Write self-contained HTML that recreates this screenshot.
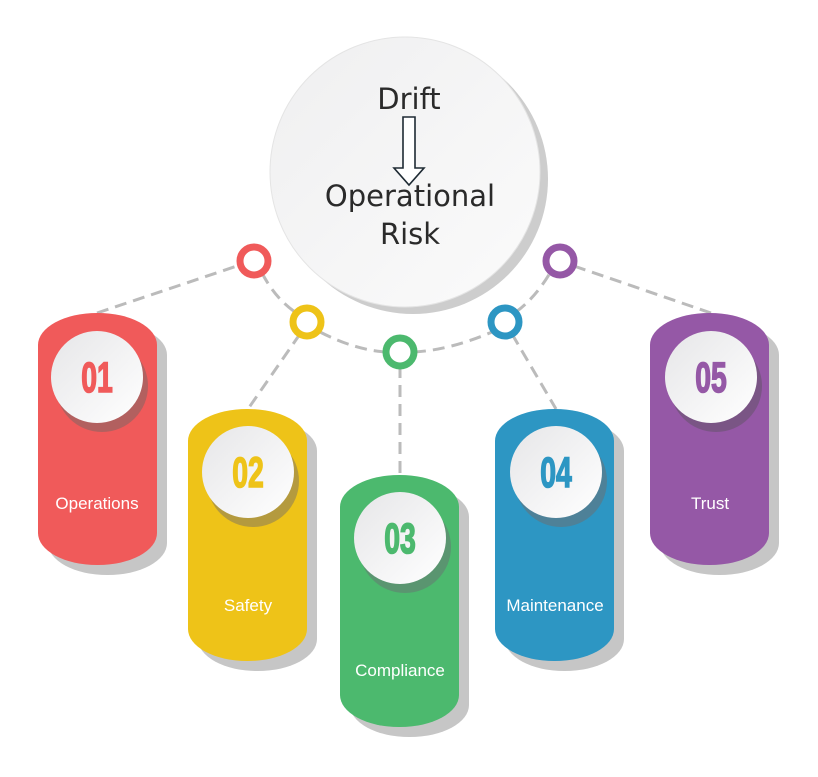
<!DOCTYPE html>
<html><head><meta charset="utf-8"><style>
html,body{margin:0;padding:0;background:#fff;width:818px;height:777px;overflow:hidden}
svg{display:block}
.lbl{font-family:"Liberation Sans",sans-serif;font-size:17px;fill:#fff;text-anchor:middle}
.num{font-family:"Liberation Sans",sans-serif;font-weight:bold;font-size:43px;text-anchor:middle;stroke-width:1.6}
.ct{font-family:"DejaVu Sans","Liberation Sans",sans-serif;font-size:29px;fill:#2a2a2a;text-anchor:middle}
</style></head><body>
<svg width="818" height="777" viewBox="0 0 818 777" xmlns="http://www.w3.org/2000/svg">
<defs>
<linearGradient id="g" x1="0" y1="0" x2="1" y2="1"><stop offset="0" stop-color="#e6e6e8"/><stop offset="1" stop-color="#ffffff"/></linearGradient>
<linearGradient id="gc" x1="0" y1="0" x2="1" y2="1"><stop offset="0" stop-color="#efeff0"/><stop offset="1" stop-color="#fbfbfb"/></linearGradient>
</defs>
<circle cx="413" cy="179" r="135" fill="#cdcdcd"/>
<circle cx="405" cy="172" r="135" fill="url(#gc)" stroke="#e4e4e4" stroke-width="1"/>
<text class="ct" x="409" y="109">Drift</text>
<path d="M403 117 H415 V168 H424 L409 185 L394 168 H403 Z" fill="#fff" stroke="#1e2a33" stroke-width="1.6"/>
<text class="ct" x="410" y="206">Operational</text>
<text class="ct" x="410" y="244">Risk</text>
<g stroke="#bbbbbb" stroke-width="3" stroke-dasharray="12 7" fill="none">
<path d="M97 313 L240 265"/>
<path d="M262 273 Q275 298 295 312"/>
<path d="M320 332 Q355 350 386 352"/>
<path d="M414 352 Q450 350 492 332"/>
<path d="M516 312 Q535 298 550 273"/>
<path d="M574 266 L711 313"/>
<path d="M300 334 L248 409"/>
<path d="M400 366 L400 475"/>
<path d="M512 334 L556 409"/>
</g>
<g fill="#fff" stroke-width="7">
<circle cx="254" cy="261" r="14" stroke="#f05a5a"/>
<circle cx="307" cy="322" r="14" stroke="#eec318"/>
<circle cx="400" cy="352" r="14" stroke="#4cb96e"/>
<circle cx="505" cy="322" r="14" stroke="#2d96c3"/>
<circle cx="560" cy="261" r="14" stroke="#9558a6"/>
</g>
<g>
<rect x="48" y="323" width="119" height="252" rx="59" ry="32" fill="#c6c6c6"/>
<rect x="38" y="313" width="119" height="252" rx="59" ry="32" fill="#f05a5a"/>
<circle cx="102" cy="386" r="46" fill="#b2605f"/>
<circle cx="97" cy="377" r="46" fill="url(#g)"/>
<text class="num" transform="translate(97,392) scale(0.66,1)" fill="#f05a5a" stroke="#f05a5a">01</text>
<text class="lbl" x="97" y="509">Operations</text>

<rect x="198" y="419" width="119" height="252" rx="59" ry="32" fill="#c6c6c6"/>
<rect x="188" y="409" width="119" height="252" rx="59" ry="32" fill="#eec318"/>
<circle cx="253" cy="481" r="46" fill="#b49a3e"/>
<circle cx="248" cy="472" r="46" fill="url(#g)"/>
<text class="num" transform="translate(248,487) scale(0.66,1)" fill="#eec318" stroke="#eec318">02</text>
<text class="lbl" x="248" y="611">Safety</text>

<rect x="350" y="485" width="119" height="252" rx="59" ry="32" fill="#c6c6c6"/>
<rect x="340" y="475" width="119" height="252" rx="59" ry="32" fill="#4cb96e"/>
<circle cx="405" cy="547" r="46" fill="#5a9570"/>
<circle cx="400" cy="538" r="46" fill="url(#g)"/>
<text class="num" transform="translate(400,553) scale(0.66,1)" fill="#4cb96e" stroke="#4cb96e">03</text>
<text class="lbl" x="400" y="676">Compliance</text>

<rect x="505" y="419" width="119" height="252" rx="59" ry="32" fill="#c6c6c6"/>
<rect x="495" y="409" width="119" height="252" rx="59" ry="32" fill="#2d96c3"/>
<circle cx="561" cy="481" r="46" fill="#4e8198"/>
<circle cx="556" cy="472" r="46" fill="url(#g)"/>
<text class="num" transform="translate(556,487) scale(0.66,1)" fill="#2d96c3" stroke="#2d96c3">04</text>
<text class="lbl" x="555" y="611">Maintenance</text>

<rect x="660" y="323" width="119" height="252" rx="59" ry="32" fill="#c6c6c6"/>
<rect x="650" y="313" width="119" height="252" rx="59" ry="32" fill="#9558a6"/>
<circle cx="716" cy="386" r="46" fill="#7a5585"/>
<circle cx="711" cy="377" r="46" fill="url(#g)"/>
<text class="num" transform="translate(711,392) scale(0.66,1)" fill="#9558a6" stroke="#9558a6">05</text>
<text class="lbl" x="710" y="509">Trust</text>
</g>
</svg>
</body></html>
